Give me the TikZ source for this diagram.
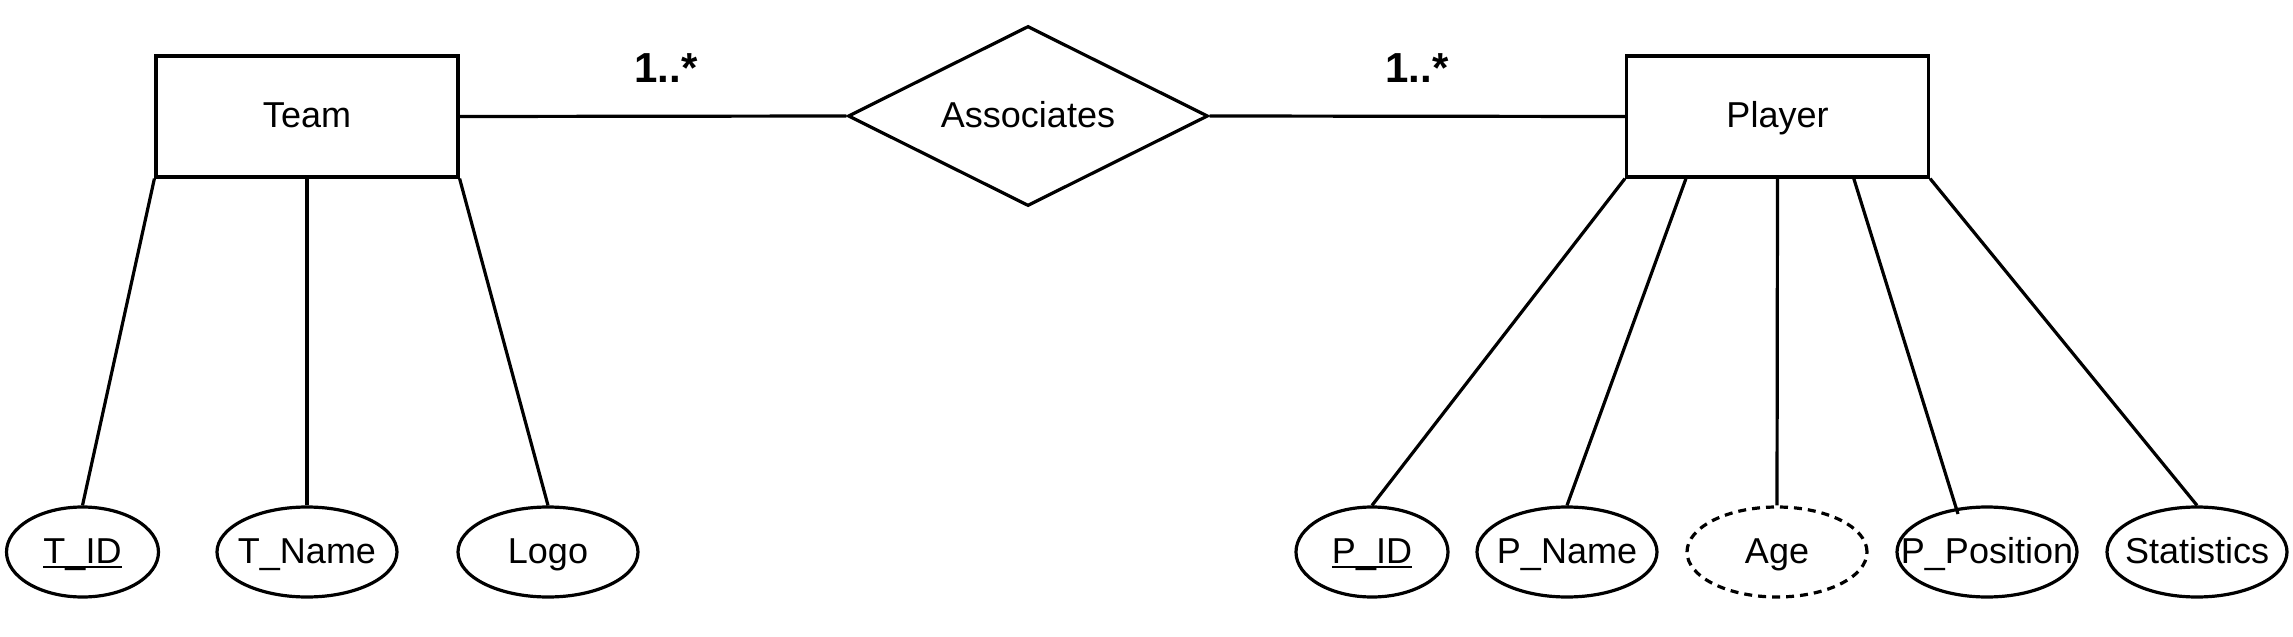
\documentclass[tikz,border=0pt]{standalone}
\usepackage{fontspec}
\setmainfont{Liberation Sans}
\usepackage{tikz}
\usetikzlibrary{shapes.geometric,calc}
\newcommand{\attrtext}[1]{\makebox[0pt]{#1}}
\newcommand{\keytext}[1]{\setbox0\hbox{#1}\rlap{\rule[-2.6pt]{\wd0}{1.2pt}}\box0}

\begin{document}
\begin{tikzpicture}[x=0.5pt,y=-0.5pt,line width=1.6pt,
  font=\fontsize{18}{21}\selectfont,text height=14pt,text depth=3pt,
  entity/.style={draw,rectangle,minimum width=151pt,minimum height=60.5pt,inner sep=0pt},
  relation/.style={draw,diamond,aspect=2,minimum width=180pt,minimum height=90pt,inner sep=0pt},
  attrib/.style={draw,ellipse,minimum width=90pt,minimum height=45pt,inner sep=0pt},
  keyattrib/.style={attrib,minimum width=76pt},
  card/.style={font=\fontsize{21}{25}\selectfont\bfseries}]
\useasboundingbox (0,0) rectangle (2293,637);
\node[entity] (team) at (307,116.5) {Team};
\node[relation] (assoc) at (1028,116) {Associates};
\node[entity] (player) at (1777.5,116.5) {Player};
\node[card] (cteam) at (666,72) {1..*};
\node[card] (cplayer) at (1417,72) {1..*};
\node[keyattrib] (tid) at (82.5,552) {\attrtext{\keytext{T\_ID}}};
\node[attrib] (tname) at (307,552) {\attrtext{T\_Name}};
\node[attrib] (logo) at (548,552) {\attrtext{Logo}};
\node[keyattrib] (pid) at (1372,552) {\attrtext{\keytext{P\_ID}}};
\node[attrib] (pname) at (1567,552) {\attrtext{P\_Name}};
\node[attrib,dashed,dash pattern=on 4pt off 3pt] (age) at (1777,552) {\attrtext{Age}};
\node[attrib] (ppos) at (1987,552) {\attrtext{P\_Position}};
\node[attrib] (stats) at (2197,552) {\attrtext{Statistics}};
\coordinate (pn) at ($(player.south west)!0.2!(player.south east)$);
\coordinate (pp) at ($(player.south west)!0.75!(player.south east)$);
\coordinate (ppend) at (1958,514);
\draw (team.east) -- (assoc.west);
\draw (assoc.east) -- (player.west);
\draw (team.south west) -- (tid.north);
\draw (team.south) -- (tname.north);
\draw (team.south east) -- (logo.north);
\draw (player.south west) -- (pid.north);
\draw (pn) -- (pname.north);
\draw (player.south) -- (age.north);
\draw (pp) -- (ppend);
\draw (player.south east) -- (stats.north);
\end{tikzpicture}
\end{document}
